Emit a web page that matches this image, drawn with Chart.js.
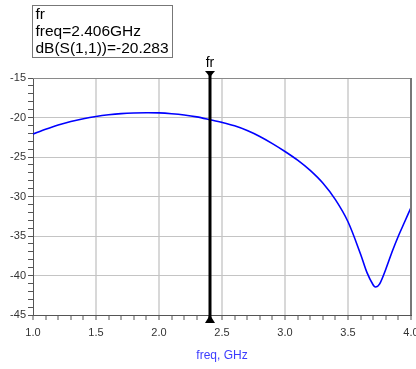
<!DOCTYPE html>
<html>
<head>
<meta charset="utf-8">
<script src="https://cdn.jsdelivr.net/npm/chart.js@4.4.1/dist/chart.umd.min.js"></script>
<style>
  html, body { margin: 0; padding: 0; background: #ffffff; }
  #wrap { width: 416px; height: 369px; }
</style>
</head>
<body>
<div id="wrap"><canvas id="c" width="416" height="369"></canvas></div>
<script>
// Return loss sweep, dB(S(1,1)) versus frequency in GHz
const freqGHz = [1.0, 1.1, 1.2, 1.3, 1.4, 1.5, 1.6, 1.7, 1.8, 1.9, 2.0, 2.1, 2.2, 2.3, 2.406,
                 2.5, 2.6, 2.7, 2.8, 2.9, 3.0, 3.1, 3.2, 3.3, 3.4, 3.5, 3.6, 3.65, 3.7, 3.72,
                 3.75, 3.8, 3.85, 3.9, 3.95, 4.0];
const s11dB   = [-22.1, -21.5, -20.95, -20.5, -20.15, -19.87, -19.66, -19.51, -19.43, -19.4, -19.42,
                 -19.52, -19.68, -19.92, -20.283, -20.62, -21.05, -21.65, -22.4, -23.3, -24.3, -25.4,
                 -26.7, -28.3, -30.4, -33.2, -37.3, -39.6, -41.2, -41.45, -41.1, -39.2, -37.0,
                 -35.0, -33.2, -31.4];

// Marker "fr"
const markerName = 'fr';
const markerFreq = 2.406;
const markerValue = -20.283;

// Axis ranges and labelled ticks
const xMin = 1.0, xMax = 4.0, xMajor = 0.5, xMinor = 0.1;
const yMin = -45, yMax = -15, yMajor = 5, yMinor = 1;

const FONT = '"Liberation Sans", Arial, sans-serif';

function isMultiple(v, step) {
  const r = v / step;
  return Math.abs(r - Math.round(r)) < 1e-6;
}
function innerMajor(c, step, lo, hi) {
  if (!c.tick) return false;
  const v = c.tick.value;
  return isMultiple(v, step) && v > lo + 1e-9 && v < hi - 1e-9;
}

const markerPlugin = {
  id: 'markerPlugin',
  afterDraw(chart) {
    const ctx = chart.ctx;
    const area = chart.chartArea;
    const xs = chart.scales.x;
    const px = Math.round(xs.getPixelForValue(markerFreq));
    ctx.save();
    // frame: top and right edges of the plot
    ctx.strokeStyle = '#8a8a8a';
    ctx.lineWidth = 1;
    ctx.beginPath();
    ctx.moveTo(area.left, area.top + 0.5);
    ctx.lineTo(area.right, area.top + 0.5);
    ctx.stroke();
    ctx.strokeStyle = '#777777';
    ctx.lineWidth = 2;
    ctx.beginPath();
    ctx.moveTo(area.right, area.top);
    ctx.lineTo(area.right, area.bottom);
    ctx.stroke();

    // marker line with triangles
    ctx.strokeStyle = '#000000';
    ctx.fillStyle = '#000000';
    ctx.lineWidth = 3;
    ctx.beginPath();
    ctx.moveTo(px, area.top - 6);
    ctx.lineTo(px, area.bottom + 6);
    ctx.stroke();
    ctx.beginPath();
    ctx.moveTo(px - 5, area.top - 7);
    ctx.lineTo(px + 5, area.top - 7);
    ctx.lineTo(px, area.top - 1);
    ctx.closePath();
    ctx.fill();
    ctx.beginPath();
    ctx.moveTo(px - 5, area.bottom + 8);
    ctx.lineTo(px + 5, area.bottom + 8);
    ctx.lineTo(px, area.bottom);
    ctx.closePath();
    ctx.fill();

    ctx.font = '14px ' + FONT;
    ctx.textAlign = 'center';
    ctx.textBaseline = 'middle';
    ctx.fillText(markerName, px, area.top - 15);

    // marker readout box
    const lines = [markerName, 'freq=' + markerFreq.toFixed(3) + 'GHz', 'dB(S(1,1))=' + markerValue.toFixed(3)];
    ctx.font = '15.5px ' + FONT;
    ctx.textAlign = 'left';
    ctx.textBaseline = 'middle';
    const boxLeft = area.left - 0.5;
    const boxTop = 5.5;
    let w = 0;
    lines.forEach(t => { w = Math.max(w, ctx.measureText(t).width); });
    ctx.fillStyle = '#ffffff';
    ctx.fillRect(boxLeft, boxTop, Math.ceil(w) + 6, 52);
    ctx.strokeStyle = '#777777';
    ctx.lineWidth = 1;
    ctx.strokeRect(boxLeft, boxTop, Math.ceil(w) + 6, 52);
    ctx.fillStyle = '#000000';
    lines.forEach((t, i) => ctx.fillText(t, boxLeft + 3, boxTop + 9 + i * 17));
    ctx.restore();
  }
};

new Chart(document.getElementById('c'), {
  type: 'line',
  data: {
    datasets: [{
      data: freqGHz.map((f, i) => ({ x: f, y: s11dB[i] })),
      borderColor: '#0000ff',
      borderWidth: 1.6,
      pointRadius: 0,
      tension: 0.3,
      fill: false
    }]
  },
  options: {
    responsive: false,
    animation: false,
    devicePixelRatio: 1,
    layout: { padding: { top: 78, right: 5, left: 0, bottom: 0 } },
    plugins: { legend: { display: false }, tooltip: { enabled: false } },
    scales: {
      x: {
        type: 'linear',
        min: xMin,
        max: xMax,
        afterFit(scale) { scale.height = 54; scale.paddingLeft = 0; scale.paddingRight = 0; },
        ticks: {
          stepSize: xMinor,
          autoSkip: false,
          maxRotation: 0,
          padding: 6,
          color: '#333333',
          font: { family: FONT, size: 11 },
          callback: v => isMultiple(v, xMajor) ? v.toFixed(1) : ''
        },
        grid: {
          color: c => innerMajor(c, xMajor, xMin, xMax) ? '#d8d8d8' : 'rgba(0,0,0,0)',
          lineWidth: 2,
          tickColor: '#555555',
          tickWidth: 1,
          tickLength: 5
        },
        border: { color: '#555555', width: 1 },
        title: {
          display: true,
          text: 'freq, GHz',
          color: '#3c3cff',
          font: { family: FONT, size: 12 },
          padding: { top: 4, bottom: 6 }
        }
      },
      y: {
        type: 'linear',
        min: yMin,
        max: yMax,
        afterFit(scale) { scale.width = 33; },
        ticks: {
          stepSize: yMinor,
          autoSkip: false,
          padding: 2,
          color: '#333333',
          font: { family: FONT, size: 11 },
          callback: v => isMultiple(v, yMajor) ? String(v) : ''
        },
        grid: {
          color: c => innerMajor(c, yMajor, yMin, yMax) ? '#c4c4c4' : 'rgba(0,0,0,0)',
          lineWidth: 1,
          tickColor: '#555555',
          tickLength: 5
        },
        border: { color: '#555555', width: 1 }
      }
    }
  },
  plugins: [markerPlugin]
});
</script>
</body>
</html>
